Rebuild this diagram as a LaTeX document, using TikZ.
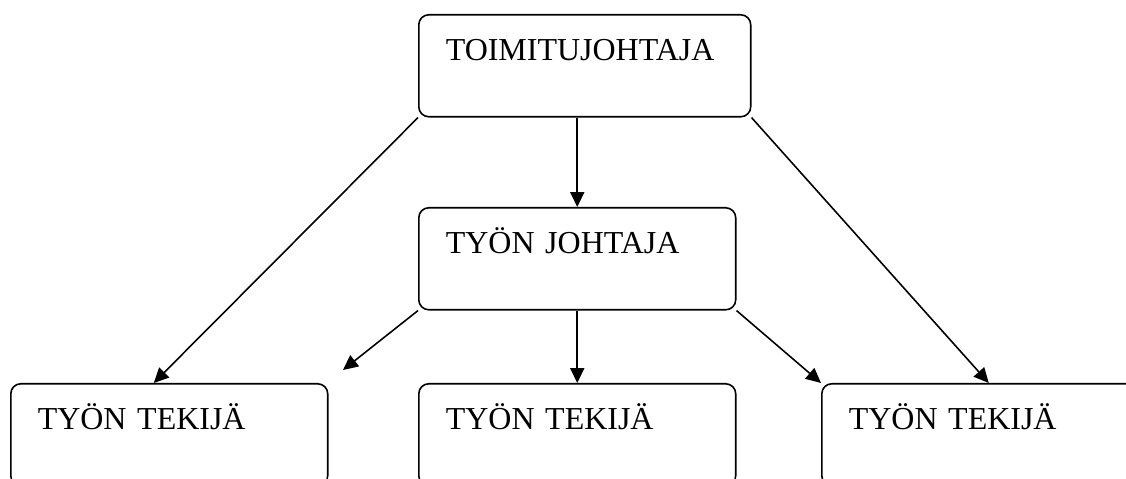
\documentclass[tikz,border=0pt]{standalone}
\usepackage{fontspec}
\setmainfont{Liberation Serif}
\usetikzlibrary{arrows.meta}
\usetikzlibrary{positioning}
\tikzset{
	orgbox/.style={draw, line width = 0.9pt, rounded corners = 0.2cm, anchor = north west,
		inner xsep = 0.54cm, inner ysep = 0pt, align = left,
		text height = 0.92cm, text depth = 1.12cm,
		font = \fontsize{18.2}{21.8}\selectfont},
	wide/.style={text width = 5.56cm},
	narrow/.style={text width = 5.26cm},
	link/.style={line width = 0.9pt, -{Triangle[length = 8.5pt, width = 8pt]}}
}

\begin{document}
\begin{tikzpicture}[x = 0.02cm, y = -0.02cm]

					\useasboundingbox (0,0) rectangle (1126,479);
					\clip (0,0) rectangle (1126,479);

					\node[orgbox, wide] (toimitus) at (418,14) {TOIMITUJOHTAJA};
					\node[orgbox, narrow] (johtaja) at (418,207) {TYÖN JOHTAJA};

					\node[orgbox, narrow] (tekijaa) at (10,383) {TYÖN TEKIJÄ};
					\node[orgbox, narrow] (tekijab) at (418,383) {TYÖN TEKIJÄ};
					\node[orgbox, narrow] (tekijac) at (821,383) {TYÖN TEKIJÄ};

					\coordinate (vapaa) at (343,370);

					\draw[link] (toimitus.south west) -- ([xshift = -0.31cm]tekijaa.north);
					\draw[link] (toimitus.south -| johtaja.north) -- (johtaja.north);
					\draw[link] (toimitus.south east) -- ([xshift = 0.17cm]tekijac.north);

					\draw[link] (johtaja.south west) -- (vapaa);
					\draw[link] (johtaja.south) -- (tekijab.north);
					\draw[link] (johtaja.south east) -- (tekijac.north west);

				\end{tikzpicture}
\end{document}
